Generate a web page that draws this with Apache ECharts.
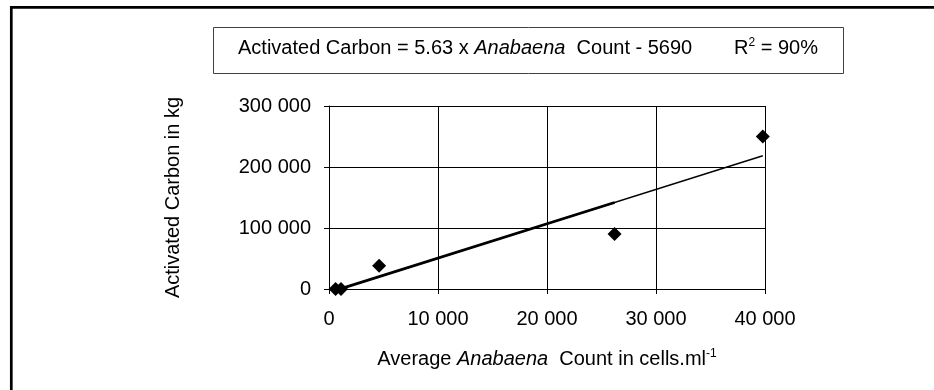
<!DOCTYPE html>
<html><head><meta charset="utf-8">
<script src="https://cdn.jsdelivr.net/npm/echarts@6/dist/echarts.min.js"></script>
<style>html,body{margin:0;padding:0;background:#fff}#c{width:934px;height:390px}</style>
</head><body><div id="c"></div>
<script>
// Data
const countX = [600, 1100, 4600, 26200, 39800];
const carbonY = [0, 0, 38000, 90000, 250000];
// Regression trendline (Activated Carbon = 5.63 x Count - 5690), endpoints
const trendX = [600, 39800];
const trendY = [-2300, 218400];
const boldTrendX = [600, 26200];
const boldTrendY = [-2300, 141800];
// Tick values
const xTicks = [0, 10000, 20000, 30000, 40000];
const yTicks = [0, 100000, 200000, 300000];

const FONT = "'Liberation Sans', Arial, sans-serif";
const fmt = v => String(v).replace(/\B(?=(\d{3})+(?!\d))/g, ' ');
const pairs = (xs, ys) => xs.map((x, i) => [x, ys[i]]);

const chart = echarts.init(document.getElementById('c'), null, {renderer: 'canvas'});
chart.setOption({
  animation: false,
  backgroundColor: '#fff',
  grid: {left: 329, right: 169, top: 106, bottom: 101, show: false},
  xAxis: {
    type: 'value',
    min: xTicks[0], max: xTicks[xTicks.length - 1], interval: xTicks[1] - xTicks[0],
    axisLine: {show: true, lineStyle: {color: '#000', width: 1}},
    axisTick: {show: true, length: 5, lineStyle: {color: '#000'}},
    splitLine: {show: true, lineStyle: {color: '#000', width: 1}},
    axisLabel: {color: '#000', fontFamily: FONT, fontSize: 20, margin: 20, formatter: fmt},
    name: 'Average {i|Anabaena}  Count in cells.ml{s|-1}',
    nameLocation: 'middle', nameGap: 59,
    nameTextStyle: {
      color: '#000', fontFamily: FONT, fontSize: 20, lineHeight: 22,
      rich: {
        i: {fontStyle: 'italic', fontFamily: FONT, fontSize: 20, color: '#000', lineHeight: 22},
        s: {fontFamily: FONT, fontSize: 12, color: '#000', verticalAlign: 'top', lineHeight: 12}
      }
    }
  },
  yAxis: {
    type: 'value',
    min: yTicks[0], max: yTicks[yTicks.length - 1], interval: yTicks[1] - yTicks[0],
    axisLine: {show: true, lineStyle: {color: '#000', width: 1}},
    axisTick: {show: true, length: 5, lineStyle: {color: '#000'}},
    splitLine: {show: true, lineStyle: {color: '#000', width: 1}},
    axisLabel: {color: '#000', fontFamily: FONT, fontSize: 20, margin: 18, formatter: fmt},
    name: 'Activated Carbon in kg',
    nameLocation: 'middle', nameGap: 146,
    nameTextStyle: {color: '#000', fontFamily: FONT, fontSize: 20}
  },
  series: [
    {type: 'line', data: pairs(trendX, trendY), symbol: 'none', silent: true,
     lineStyle: {color: '#000', width: 1.4}, z: 2},
    {type: 'line', data: pairs(boldTrendX, boldTrendY), symbol: 'none', silent: true,
     lineStyle: {color: '#000', width: 2.8}, z: 2},
    {type: 'scatter', data: pairs(countX, carbonY), symbol: 'diamond', symbolSize: 14,
     itemStyle: {color: '#000', opacity: 1}, z: 3}
  ],
  graphic: [
    {type: 'rect', shape: {x: 11.3, y: 7.3, width: 1100, height: 600},
     style: {fill: 'none', stroke: '#000', lineWidth: 2.7}, silent: true},
    {type: 'rect', shape: {x: 213.5, y: 27.5, width: 630, height: 46},
     style: {fill: '#fff', stroke: '#404040', lineWidth: 1}, silent: true},
    {type: 'text', x: 238, y: 48,
     style: {
       text: 'Activated Carbon = 5.63 x {i|Anabaena}  Count - 5690',
       font: '20px ' + FONT, fill: '#000', verticalAlign: 'middle', align: 'left',
       rich: {i: {fontStyle: 'italic', fontFamily: FONT, fontSize: 20, fill: '#000'}}
     }},
    {type: 'text', x: 734, y: 48,
     style: {
       text: 'R{s|2} = 90%',
       font: '20px ' + FONT, fill: '#000', verticalAlign: 'middle', align: 'left',
       lineHeight: 22,
       rich: {s: {fontFamily: FONT, fontSize: 12, fill: '#000', verticalAlign: 'top', lineHeight: 12}}
     }}
  ]
});
</script></body></html>
